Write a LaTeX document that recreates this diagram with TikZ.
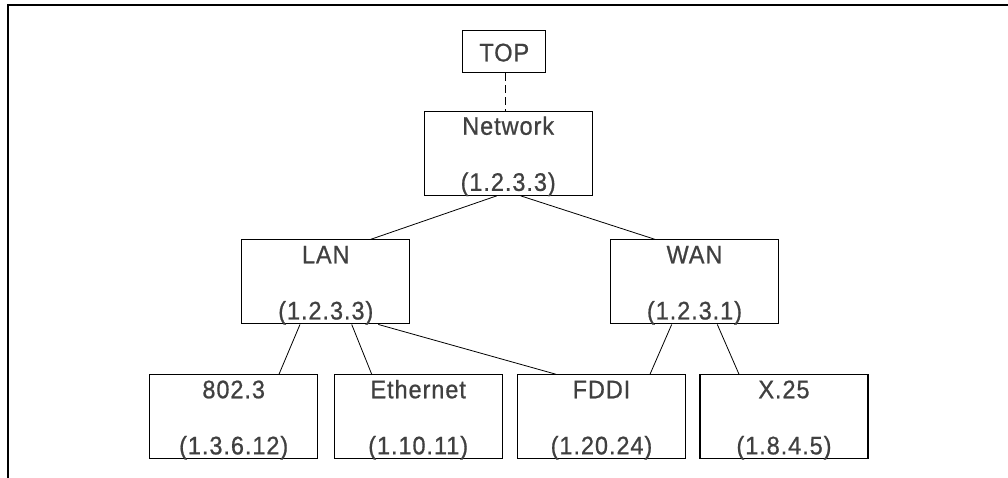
\documentclass[tikz,border=0pt]{standalone}
\usepackage{fontspec}
\newfontfamily\lblfont[LetterSpace=4, FakeBold=0.8]{Liberation Sans}
\begin{document}
\begin{tikzpicture}[x=1pt,y=-1pt,
  box/.style={draw, line width=1.1pt, minimum width=168pt, minimum height=84pt, inner sep=0pt},
  smallbox/.style={draw, line width=1.1pt, minimum width=83pt, minimum height=42pt, inner sep=0pt},
  lbl/.style={anchor=base, inner sep=0pt, text=black!75, yscale=1.08, transform shape,
              font=\lblfont\fontsize{23.5}{28}\selectfont},
  link/.style={line width=0.8pt},
  frameline/.style={line width=1.8pt}]
\useasboundingbox (0,0) rectangle (1008,478);

% outer frame: top and left edges only
\coordinate (fTL) at (8,5);
\coordinate (fTR) at (1008,5);
\coordinate (fBL) at (8,478);
\draw[frameline] (fTR) -- (fTL) -- (fBL);

% boxes
\node[smallbox] (top) at (504.3,51.9) {};
\node[box] (net)  at (508.2,153.3) {};
\node[box] (lan)  at (325.8,281.9) {};
\node[box] (wan)  at (694.5,281.9) {};
\node[box] (p8023) at (233.7,416.8) {};
\node[box] (eth)  at (418.2,416.8) {};
\node[box] (fddi) at (601.5,416.8) {};
\node[box] (x25)  at (784.0,416.8) {};

% labels
\node[lbl] (topT) at ([yshift=-31pt]top.north) {TOP};
\node[lbl] (netA) at ([yshift=-24pt]net.north) {Network};
\node[lbl] (netB) at ([yshift=5pt]net.south) {(1.2.3.3)};
\node[lbl] (lanA) at ([yshift=-24pt]lan.north) {LAN};
\node[lbl] (lanB) at ([yshift=5pt]lan.south) {(1.2.3.3)};
\node[lbl] (wanA) at ([yshift=-24pt]wan.north) {WAN};
\node[lbl] (wanB) at ([yshift=5pt]wan.south) {(1.2.3.1)};
\node[lbl] (p8023A) at ([yshift=-24pt]p8023.north) {802.3};
\node[lbl] (p8023B) at ([yshift=5pt]p8023.south) {(1.3.6.12)};
\node[lbl] (ethA) at ([yshift=-24pt]eth.north) {Ethernet};
\node[lbl] (ethB) at ([yshift=5pt]eth.south) {(1.10.11)};
\node[lbl] (fddiA) at ([yshift=-24pt]fddi.north) {FDDI};
\node[lbl] (fddiB) at ([yshift=5pt]fddi.south) {(1.20.24)};
\node[lbl] (x25A) at ([yshift=-24pt]x25.north) {X.25};
\node[lbl] (x25B) at ([yshift=5pt]x25.south) {(1.8.4.5)};

% connectors
\draw[link, dash pattern=on 8pt off 4pt] ([xshift=0.7pt]top.south) -- ([xshift=-3.2pt]net.north);
\draw[link] ([xshift=-11.5pt]net.south) -- ([xshift=44.9pt]lan.north);
\draw[link] ([xshift=12.5pt]net.south) -- ([xshift=-39.5pt]wan.north);
\draw[link] ([xshift=-25.8pt]lan.south) -- ([xshift=45.3pt]p8023.north);
\draw[link] ([xshift=25.9pt]lan.south) -- ([xshift=-46.5pt]eth.north);
\draw[link] ([xshift=52.5pt]lan.south) -- ([xshift=-45.5pt]fddi.north);
\draw[link] ([xshift=-22.8pt]wan.south) -- ([xshift=48.5pt]fddi.north);
\draw[link] ([xshift=22.8pt]wan.south) -- ([xshift=-45pt]x25.north);
\end{tikzpicture}
\end{document}
